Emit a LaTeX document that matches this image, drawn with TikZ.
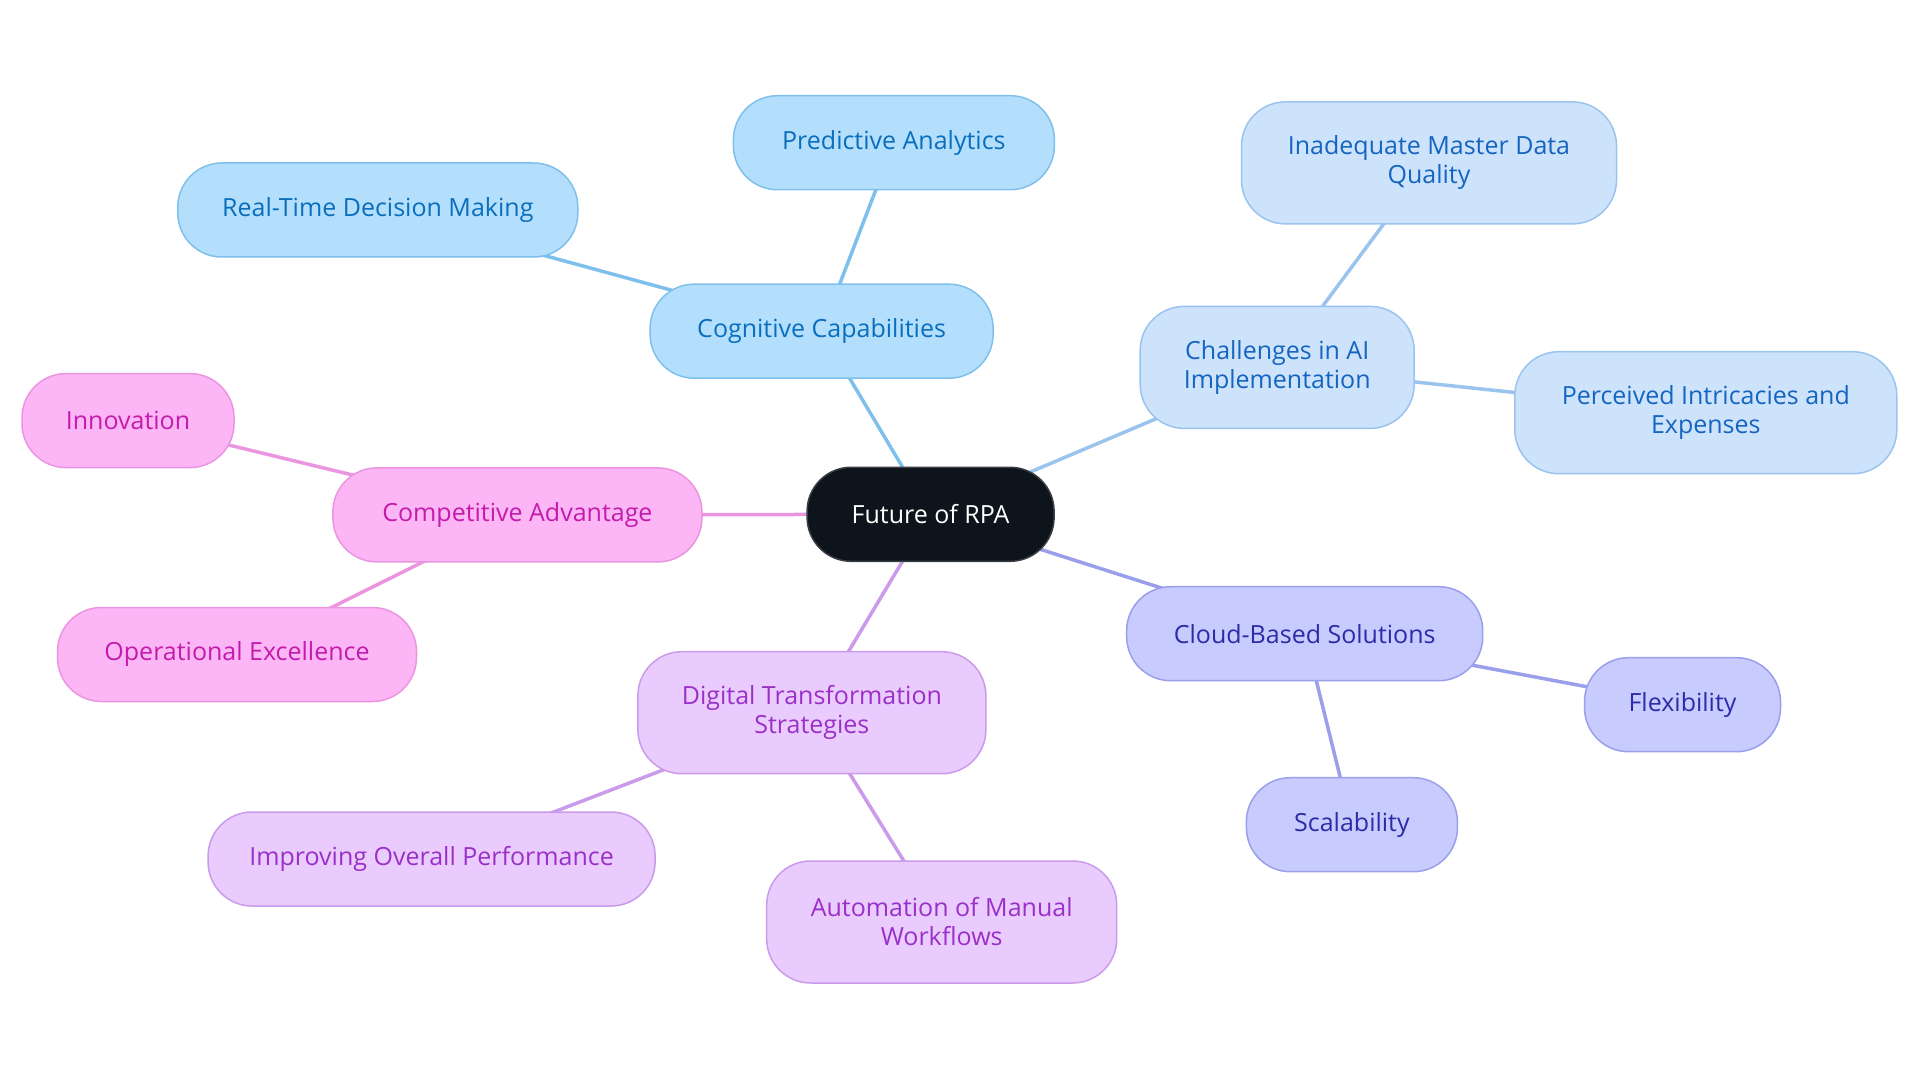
\documentclass[tikz,border=0pt]{standalone}
\usepackage{fontspec}
\setmainfont{Open Sans}
\usetikzlibrary{backgrounds}
\definecolor{bfill}{HTML}{B3DFFD}\definecolor{bdraw}{HTML}{7EC0EB}\definecolor{btext}{HTML}{0A6EBD}
\definecolor{lfill}{HTML}{CDE3FB}\definecolor{ldraw}{HTML}{9AC3EE}\definecolor{ltext}{HTML}{1565C0}
\definecolor{vfill}{HTML}{C8CBFE}\definecolor{vdraw}{HTML}{9A9FEB}\definecolor{vtext}{HTML}{2D2BA8}
\definecolor{pfill}{HTML}{EACBFE}\definecolor{pdraw}{HTML}{C99BEA}\definecolor{ptext}{HTML}{9A30C8}
\definecolor{kfill}{HTML}{FDB6F5}\definecolor{kdraw}{HTML}{EB94E0}\definecolor{ktext}{HTML}{C21BAD}
\definecolor{rfill}{HTML}{0D141B}\definecolor{rdraw}{HTML}{3A3F45}
\tikzset{
  box/.style={rounded corners=44pt, line width=1.5pt, align=center, inner sep=0pt,
    font=\fontsize{25}{29}\selectfont, minimum height=94pt},
  tall/.style={minimum height=122pt},
  bnode/.style={box, fill=bfill, draw=bdraw, text=btext},
  lnode/.style={box, fill=lfill, draw=ldraw, text=ltext},
  vnode/.style={box, fill=vfill, draw=vdraw, text=vtext},
  pnode/.style={box, fill=pfill, draw=pdraw, text=ptext},
  knode/.style={box, fill=kfill, draw=kdraw, text=ktext},
  rnode/.style={box, fill=rfill, draw=rdraw, text=white},
  link/.style={line width=3.5pt},
}
\begin{document}
\begin{tikzpicture}[x=1pt,y=-1pt]
\useasboundingbox (0,0) rectangle (1920,1083);
\node[rnode, minimum width=247pt] (root) at (930.6,514.3) {Future of RPA};
\node[bnode, minimum width=343pt] (cog) at (821.6,331.2) {Cognitive Capabilities};
\node[bnode, minimum width=321pt] (pred) at (893.9,142.7) {Predictive Analytics};
\node[bnode, minimum width=400pt] (real) at (377.8,210) {Real-Time Decision Making};
\node[lnode, tall, minimum width=274pt] (chal) at (1277.2,367.4) {Challenges in AI\\Implementation};
\node[lnode, tall, minimum width=375pt] (inad) at (1429,162.9) {Inadequate Master Data\\Quality};
\node[lnode, tall, minimum width=382pt] (perc) at (1705.8,412.7) {Perceived Intricacies and\\Expenses};
\node[knode, minimum width=369pt] (comp) at (517.4,514.9) {Competitive Advantage};
\node[knode, minimum width=212pt] (inno) at (128,420.6) {Innovation};
\node[knode, minimum width=359pt] (oper) at (237,654.5) {Operational Excellence};
\node[pnode, tall, minimum width=348pt] (digi) at (811.9,712.7) {Digital Transformation\\Strategies};
\node[pnode, minimum width=447pt] (impr) at (431.6,859) {Improving Overall Performance};
\node[pnode, tall, minimum width=350pt] (auto) at (941.7,922) {Automation of Manual\\Workflows};
\node[vnode, minimum width=356pt] (clou) at (1304.7,633.7) {Cloud-Based Solutions};
\node[vnode, minimum width=196pt] (flex) at (1682.5,704.7) {Flexibility};
\node[vnode, minimum width=211pt] (scal) at (1351.9,824.7) {Scalability};
\begin{scope}[on background layer]
\draw[link, draw=bdraw] (root.center) -- (cog.center) (cog.center) -- (pred.center) (cog.center) -- (real.center);
\draw[link, draw=ldraw] (root.center) -- (chal.center) (chal.center) -- (inad.center) (chal.center) -- (perc.center);
\draw[link, draw=kdraw] (root.center) -- (comp.center) (comp.center) -- (inno.center) (comp.center) -- (oper.center);
\draw[link, draw=pdraw] (root.center) -- (digi.center) (digi.center) -- (impr.center) (digi.center) -- (auto.center);
\draw[link, draw=vdraw] (root.center) -- (clou.center) (clou.center) -- (flex.center) (clou.center) -- (scal.center);
\end{scope}
\end{tikzpicture}
\end{document}
